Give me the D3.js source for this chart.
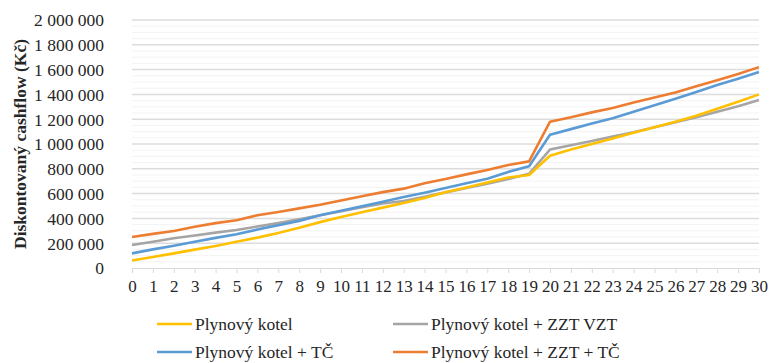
<!DOCTYPE html>
<html>
<head>
<meta charset="utf-8">
<script src="https://cdn.jsdelivr.net/npm/d3@7"></script>
<style>
  html, body { margin: 0; padding: 0; background: #fff; }
  svg { display: block; }
  svg text { font-family: "Liberation Serif", "DejaVu Serif", serif; fill: #262626; }
</style>
</head>
<body>
<svg id="chart" width="770" height="363"></svg>
<script>
// Years of operation
const years = d3.range(0, 31);

// Discounted cashflow per variant (Kč)
const plynovyKotel = [60000, 88000, 118000, 148000, 178000, 212000, 245000, 282000, 325000, 370000,
  412000, 450000, 487000, 525000, 565000, 610000, 650000, 690000, 730000, 750000,
  905000, 955000, 1000000, 1045000, 1090000, 1135000, 1180000, 1228000, 1285000, 1340000, 1400000];
const kotelZztVzt = [185000, 212000, 240000, 262000, 285000, 306000, 335000, 362000, 392000, 425000,
  458000, 490000, 520000, 540000, 575000, 610000, 645000, 680000, 718000, 760000,
  955000, 990000, 1025000, 1060000, 1095000, 1135000, 1175000, 1215000, 1260000, 1305000, 1355000];
const kotelTc = [118000, 150000, 180000, 212000, 243000, 272000, 310000, 345000, 380000, 425000,
  462000, 498000, 535000, 572000, 607000, 645000, 683000, 720000, 775000, 820000,
  1075000, 1120000, 1165000, 1207000, 1260000, 1312000, 1365000, 1420000, 1475000, 1527000, 1580000];
const kotelZztTc = [250000, 275000, 298000, 333000, 362000, 385000, 425000, 452000, 481000, 510000,
  545000, 578000, 612000, 640000, 683000, 717000, 755000, 790000, 830000, 860000,
  1180000, 1215000, 1255000, 1290000, 1335000, 1375000, 1415000, 1465000, 1515000, 1565000, 1620000];

const seriesNames = ["Plynový kotel", "Plynový kotel + ZZT VZT", "Plynový kotel + TČ", "Plynový kotel + ZZT + TČ"];
const seriesValues = [plynovyKotel, kotelZztVzt, kotelTc, kotelZztTc];
const seriesColors = ["#FFC000", "#A5A5A5", "#5B9BD5", "#ED7D31"];

// Drawing order: later series on top
const drawOrder = [1, 0, 2, 3];

const yTicks = d3.range(0, 2000001, 200000);
const yMinorTicks = d3.range(0, 2000001, 50000).filter(v => v % 200000 !== 0);
const yTitle = "Diskontovaný cashflow (Kč)";

const serif = "'Liberation Serif', 'DejaVu Serif', serif";

const svg = d3.select("#chart");
const plot = { left: 132, right: 759, top: 20, bottom: 268 };

const x = d3.scalePoint().domain(years).range([plot.left, plot.right]);
const y = d3.scaleLinear().domain([0, 2000000]).range([plot.bottom, plot.top]);

const fmt = v => d3.format(",")(v).replace(/,/g, " ");

// Minor gridlines
svg.append("g")
  .selectAll("line")
  .data(yMinorTicks)
  .join("line")
  .attr("x1", plot.left).attr("x2", plot.right)
  .attr("y1", d => y(d)).attr("y2", d => y(d))
  .attr("stroke", "#f3f3f3").attr("stroke-width", 1);

// Major gridlines
svg.append("g")
  .selectAll("line")
  .data(yTicks.filter(v => v > 0))
  .join("line")
  .attr("x1", plot.left).attr("x2", plot.right)
  .attr("y1", d => y(d)).attr("y2", d => y(d))
  .attr("stroke", "#dcdcdc").attr("stroke-width", 1.5);

// Y axis (labels only)
const yAxis = svg.append("g")
  .attr("transform", `translate(${plot.left - 28},0)`)
  .call(d3.axisLeft(y).tickValues(yTicks).tickFormat(fmt).tickSize(0).tickPadding(0))
  .attr("font-family", serif)
  .attr("font-size", 17.5);
yAxis.select(".domain").remove();
yAxis.selectAll("text").attr("fill", "#262626").attr("dy", "0.34em");

// X axis
const xAxis = svg.append("g")
  .attr("transform", `translate(0,${plot.bottom})`)
  .call(d3.axisBottom(x).tickSize(5).tickPadding(7))
  .attr("font-family", serif)
  .attr("font-size", 17);
xAxis.select(".domain").attr("stroke", "#d9d9d9").attr("stroke-width", 1.2);
xAxis.selectAll(".tick line").attr("stroke", "#d9d9d9");
xAxis.selectAll("text").attr("fill", "#262626");

// Y axis title
svg.append("text")
  .attr("transform", `translate(26,${(plot.top + plot.bottom) / 2}) rotate(-90)`)
  .attr("text-anchor", "middle")
  .attr("font-family", serif)
  .attr("font-size", 17.5)
  .attr("font-weight", "bold")
  .text(yTitle);

// Series lines
const line = d3.line()
  .x((d, i) => x(years[i]))
  .y(d => y(d));

svg.append("g")
  .selectAll("path")
  .data(drawOrder)
  .join("path")
  .attr("d", k => line(seriesValues[k]))
  .attr("fill", "none")
  .attr("stroke", k => seriesColors[k])
  .attr("stroke-width", 2.6)
  .attr("stroke-linejoin", "round");

// Legend
const legendPos = [
  { x: 157, y: 324 },
  { x: 393, y: 324 },
  { x: 157, y: 352 },
  { x: 393, y: 352 }
];
const legend = svg.append("g")
  .attr("font-family", serif)
  .attr("font-size", 17.5)
  .selectAll("g")
  .data(seriesNames)
  .join("g")
  .attr("transform", (d, i) => `translate(${legendPos[i].x},${legendPos[i].y})`);
legend.append("line")
  .attr("x1", 0).attr("x2", 35)
  .attr("stroke", (d, i) => seriesColors[i])
  .attr("stroke-width", 2.6);
legend.append("text")
  .attr("x", 38).attr("dy", "0.33em")
  .text(d => d);
</script>
</body>
</html>
